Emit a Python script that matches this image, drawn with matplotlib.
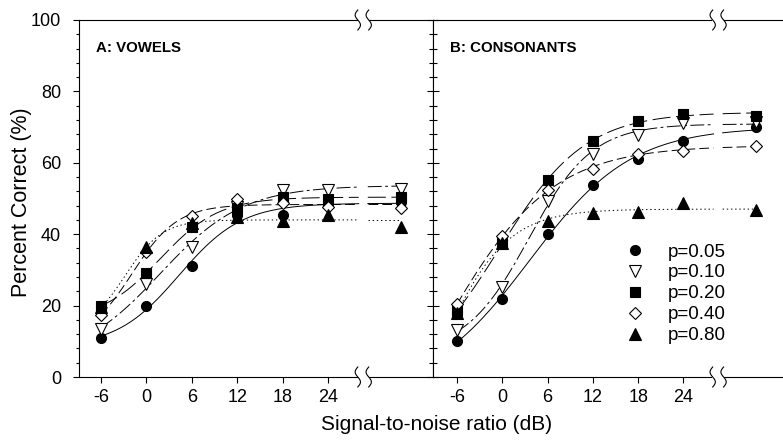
"""
plot.py - percent correct vs signal-to-noise ratio, vowels and consonants
"""

import numpy as np
import matplotlib
matplotlib.use('Agg')
from matplotlib import pyplot as plt
from matplotlib.lines import Line2D
from matplotlib.patches import Rectangle
from matplotlib.transforms import blended_transform_factory

plt.rcParams['font.family'] = ['Liberation Sans', 'DejaVu Sans']
plt.rcParams['lines.scale_dashes'] = False
plt.rcParams['axes.unicode_minus'] = False

# SNR conditions; the last column sits beyond the axis break
snr = [-6, 0, 6, 12, 18, 24, 33.6]
snr_ticks = [-6, 0, 6, 12, 18, 24]
x_break = 28.6

labels = ['p=0.05', 'p=0.10', 'p=0.20', 'p=0.40', 'p=0.80']

vowels_p05 = [11.0, 20.0, 31.0, 45.5, 45.4, 48.5, 49.0]
vowels_p10 = [13.5, 26.0, 36.5, 47.5, 52.4, 52.4, 52.8]
vowels_p20 = [20.0, 29.0, 42.0, 47.2, 50.5, 50.0, 50.5]
vowels_p40 = [17.5, 35.0, 45.0, 50.0, 48.6, 47.7, 47.2]
vowels_p80 = [19.5, 36.5, 43.0, 44.8, 43.8, 45.4, 42.1]

cons_p05 = [10.2, 21.8, 40.1, 53.8, 61.2, 66.1, 69.9]
cons_p10 = [13.2, 25.1, 49.4, 62.4, 67.8, 71.1, 71.5]
cons_p20 = [18.5, 37.5, 55.2, 66.1, 71.8, 73.7, 73.2]
cons_p40 = [20.4, 39.6, 52.4, 58.3, 62.5, 63.4, 64.8]
cons_p80 = [18.0, 37.4, 43.8, 45.8, 46.1, 48.6, 46.8]

STYLES = [
    dict(marker='o', mfc='k', ms=7.2, ls='-'),
    dict(marker='v', mfc='white', ms=8.0, ls=(0, (10, 2.5, 2, 2.5))),
    dict(marker='s', mfc='k', ms=6.6, ls=(0, (13, 4))),
    dict(marker='D', mfc='white', ms=6.4, ls=(0, (7, 3))),
    dict(marker='^', mfc='k', ms=8.0, ls=(0, (1, 2))),
]

TICK_FS = 13


def fit_logistic(x, y):
    """Least-squares 4-parameter logistic, grid over centre/slope."""
    x = np.asarray(x, float)
    y = np.asarray(y, float)
    best = None
    for x0 in np.arange(-8, 20, 0.1):
        for s in np.arange(0.5, 10, 0.05):
            g = 1.0 / (1.0 + np.exp(-(x - x0) / s))
            A = np.column_stack([np.ones_like(g), g])
            coef, *_ = np.linalg.lstsq(A, y, rcond=None)
            sse = np.sum((A @ coef - y) ** 2)
            if best is None or sse < best[0]:
                best = (sse, x0, s, coef)
    _, x0, s, coef = best
    return lambda t: coef[0] + coef[1] / (1.0 + np.exp(-(t - x0) / s))


def draw_break(ax, xb, yaxes):
    trans = blended_transform_factory(ax.transData, ax.transAxes)
    ax.add_patch(Rectangle((xb - 0.75, yaxes - 0.015), 1.5, 0.03,
                           transform=trans, fc='white', ec='none',
                           clip_on=False, zorder=5))
    t = np.linspace(-1, 1, 40)
    for dx in (-0.72, 0.72):
        ax.plot(xb + dx - 0.35 * np.sin(np.pi * t), yaxes + 0.028 * t,
                transform=trans, color='k', lw=0.8, clip_on=False, zorder=6)


def do_panel(ax, series, title):
    for vals, st in zip(series, STYLES):
        f = fit_logistic(snr, vals)
        for lo, hi in ((-6, x_break - 0.6), (x_break + 0.6, snr[-1])):
            xs = np.linspace(lo, hi, 200)
            ax.plot(xs, f(xs), color='k', lw=0.7, ls=st['ls'], zorder=2)
        ax.plot(snr, vals, ls='none', marker=st['marker'], mfc=st['mfc'],
                mec='k', mew=0.8, ms=st['ms'], zorder=3)
    ax.set_ylim(0, 100)
    ax.set_xticks(snr_ticks)
    ax.set_yticks(np.arange(0, 101, 20))
    ax.set_yticks(np.arange(0, 101, 4), minor=True)
    ax.tick_params(axis='x', direction='out', length=4.5, width=0.8,
                   labelsize=TICK_FS, pad=4)
    ax.tick_params(axis='y', which='major', length=4, width=0.8,
                   labelsize=TICK_FS, pad=9)
    ax.tick_params(axis='y', which='minor', length=2.2, width=0.8)
    for sp in ax.spines.values():
        sp.set_linewidth(0.8)
    ax.text(0.048, 0.94, title, transform=ax.transAxes, fontsize=10.8,
            fontweight='bold', va='top', ha='left')
    draw_break(ax, x_break, 0.0)
    draw_break(ax, x_break, 1.0)


def main():
    fig = plt.figure(figsize=(7.83, 4.43), dpi=100)
    ax1 = fig.add_axes([79 / 783, 66 / 443, 354 / 783, 357 / 443])
    ax2 = fig.add_axes([433 / 783, 66 / 443, 350 / 783, 357 / 443])

    do_panel(ax1, [vowels_p05, vowels_p10, vowels_p20, vowels_p40,
                   vowels_p80], 'A: VOWELS')
    do_panel(ax2, [cons_p05, cons_p10, cons_p20, cons_p40, cons_p80],
             'B: CONSONANTS')
    ax1.set_xlim(-8.9, 37.8)
    ax2.set_xlim(-9.2, 37.2)
    ax2.spines['right'].set_visible(False)
    ax2.set_yticklabels([])
    ax2.tick_params(axis='y', which='major', direction='inout', length=9)
    ax2.tick_params(axis='y', which='minor', direction='inout', length=5.5)

    handles = [Line2D([], [], ls='none', marker=st['marker'], mfc=st['mfc'],
                      mec='k', mew=0.8, ms=st['ms']) for st in STYLES]
    ax2.legend(handles, labels, loc='upper left',
               bbox_to_anchor=(0.551, 0.374), frameon=False, fontsize=13.5,
               borderpad=0, borderaxespad=0, handlelength=0.96,
               handletextpad=1.28, labelspacing=0.2)

    fig.text(22 / 783, 1 - 202 / 443, 'Percent Correct (%)', fontsize=15.5,
             rotation=90, ha='center', va='center')
    fig.text(437 / 783, 1 - 425 / 443, 'Signal-to-noise ratio (dB)',
             fontsize=15, ha='center', va='center')
    fig.savefig('out.png', dpi=100)


if __name__ == '__main__':
    main()
